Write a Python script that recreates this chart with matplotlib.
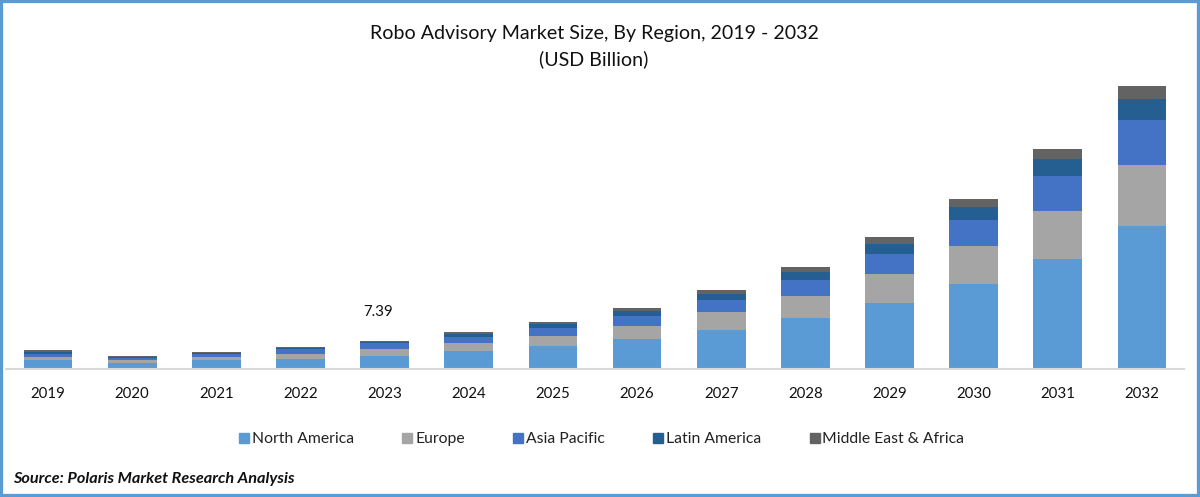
import matplotlib
matplotlib.use("Agg")
import matplotlib.pyplot as plt
from matplotlib.patches import Rectangle
from matplotlib.lines import Line2D
import numpy as np

years = ['2019', '2020', '2021', '2022', '2023', '2024', '2025', '2026', '2027', '2028', '2029', '2030', '2031', '2032']
north_america = [2.35, 1.65, 2.27, 2.69, 3.47, 4.70, 6.00, 7.83, 10.10, 13.31, 17.23, 22.26, 28.71, 37.24]
europe = [0.78, 0.70, 0.78, 1.31, 1.75, 2.01, 2.69, 3.39, 4.70, 5.74, 7.57, 9.73, 12.61, 15.92]
asia_pacific = [0.78, 0.60, 0.86, 1.12, 1.49, 1.75, 2.09, 2.61, 3.21, 4.18, 5.22, 6.97, 9.06, 11.93]
latin_america = [0.60, 0.26, 0.34, 0.34, 0.44, 0.70, 1.04, 1.38, 1.64, 2.09, 2.69, 3.31, 4.52, 5.40]
mea = [0.34, 0.18, 0.18, 0.18, 0.24, 0.44, 0.44, 0.70, 0.97, 1.38, 1.64, 2.17, 2.43, 3.31]

series = [
    ('North America', north_america, '#5b9bd5'),
    ('Europe', europe, '#a5a5a5'),
    ('Asia Pacific', asia_pacific, '#4472c4'),
    ('Latin America', latin_america, '#255e91'),
    ('Middle East & Africa', mea, '#636363'),
]
annotated_year = '2023'
annotated_label = '7.39'

plt.rcParams['font.family'] = ['Lato', 'DejaVu Sans']
W, H = 1200, 497
fig = plt.figure(figsize=(W / 100, H / 100), dpi=100)

# plot area in pixels: baseline at y=369, x from 6 to 1184
ax = fig.add_axes([6 / W, 1 - 369 / H, 1178 / W, 300 / H])
x = np.arange(len(years))
bottom = np.zeros(len(years))
for name, vals, color in series:
    ax.bar(x, vals, 0.58, bottom=bottom, color=color, label=name)
    bottom += np.array(vals)

ax.set_xlim(-0.5, len(years) - 0.5)
ax.set_ylim(0, 78.3)
ax.set_xticks(x)
ax.set_xticklabels(years, fontsize=10.8, color='#111111')
ax.tick_params(axis='x', length=0, pad=13)
ax.set_yticks([])
for s in ['top', 'left', 'right']:
    ax.spines[s].set_visible(False)
ax.spines['bottom'].set_color('#d9d9d9')
ax.spines['bottom'].set_linewidth(1.5)

ax.text(years.index(annotated_year) - 0.08, 15.0, annotated_label, ha='center', va='center',
        fontsize=10.8, color='#111111')

fig.text(594 / W, 1 - 33 / H, 'Robo Advisory Market Size, By Region, 2019 - 2032', ha='center', va='center',
         fontsize=14.1, color='#111111')
fig.text(594 / W, 1 - 59 / H, '(USD Billion)', ha='center', va='center', fontsize=14.1, color='#111111')

handles = [Line2D([], [], marker='s', linestyle='none', color=c, markersize=6.5, label=n) for n, v, c in series]
fig.legend(handles=handles, loc='center', bbox_to_anchor=(601 / W, 1 - 439 / H), ncol=5, frameon=False,
           fontsize=11.3, labelcolor='#222222', handlelength=0.8, handletextpad=0.1, columnspacing=3.0)

fig.text(13 / W, 1 - 479 / H, 'Source: Polaris Market Research Analysis', ha='left', va='center',
         fontsize=11.7, fontweight='bold', style='italic', color='#111111')

# blue frame around the picture
fig.add_artist(Rectangle((0, 0), 1, 1, transform=fig.transFigure, fill=False, edgecolor='#5b9bd5', linewidth=4.5))

fig.savefig('out.png', dpi=100)
